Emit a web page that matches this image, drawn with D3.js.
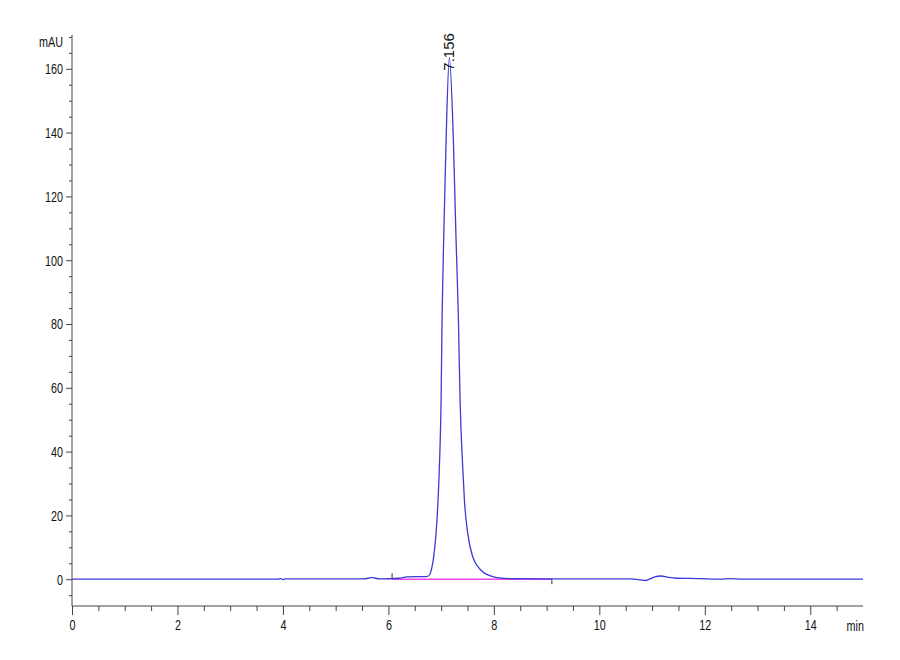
<!DOCTYPE html>
<html><head><meta charset="utf-8">
<script src="https://cdn.jsdelivr.net/npm/d3@7"></script>
<style>
body{margin:0;background:#fff;}
text{font-family:"Liberation Sans",Arial,sans-serif;fill:#111;}
</style></head>
<body><svg id="c" width="900" height="660"></svg>
<script>
// Chromatogram trace (time in min, signal in mAU)
const timeMin = [0, 3.9, 3.95, 4.0, 4.05, 5.5, 5.62, 5.68, 5.75, 5.85, 6.2, 6.35, 6.55, 6.7, 6.76, 6.796, 6.829, 6.859, 6.904, 6.942, 6.967, 6.999, 7.018, 7.048, 7.094, 7.156, 7.232, 7.283, 7.327, 7.359, 7.409, 7.441, 7.503, 7.598, 7.693, 7.82, 7.95, 8.1, 8.3, 9.0, 10.6, 10.78, 10.87, 10.95, 11.05, 11.17, 11.3, 11.45, 11.9, 12.3, 12.5, 12.7, 15];
const signalMAU = [0, 0, 0.2, -0.1, 0.1, 0.1, 0.3, 0.6, 0.3, 0.1, 0.3, 0.7, 0.8, 0.8, 1.0, 1.9, 4.0, 7.1, 14.5, 24.9, 35.3, 56.2, 82.3, 106.4, 137.7, 163.5, 137.7, 106.4, 82.3, 56.2, 35.3, 24.9, 14.5, 7.1, 4.0, 1.9, 1.0, 0.4, 0.2, 0.1, 0.1, -0.2, -0.4, 0.0, 0.7, 1.0, 0.6, 0.3, 0.2, 0.0, 0.2, 0.0, 0];
// Integration baseline
const baselineTime = [6.07, 9.1];
const baselineValue = [0, 0];
// Peak annotation
const peakTime = 7.156;
const peakLabel = "7.156";
// Axis tick labels
const xTickLabels = [0, 2, 4, 6, 8, 10, 12, 14];
const yTickLabels = [0, 20, 40, 60, 80, 100, 120, 140, 160];
const xUnit = "min";
const yUnit = "mAU";

const svg = d3.select("#c");
const x = d3.scaleLinear().domain([0, 15]).range([72, 863]);
const y = d3.scaleLinear().domain([-8.4, 170.6]).range([606, 35]);
const axisColor = "#444";
const SX = 0.72; // condensed look of the original labels

function condense(sel) {
  sel.each(function () {
    const t = d3.select(this);
    const cx = +(t.attr("x") || 0);
    t.attr("x", cx / SX).attr("transform", `scale(${SX},1)`);
  });
}

// Y axis
const yMinor = d3.range(-5, 171, 5).filter(v => !yTickLabels.includes(v));
const yAxisMajor = d3.axisLeft(y).tickValues(yTickLabels).tickSize(6).tickPadding(3).tickFormat(d3.format("d"));
const gy = svg.append("g").attr("transform", `translate(${x(0)},0)`).call(yAxisMajor);
gy.select(".domain").attr("stroke", axisColor).attr("d", `M0,${y(170.6)}V${y(-8.4)}`);
gy.selectAll(".tick line").attr("stroke", axisColor);
gy.selectAll(".tick text").attr("font-size", 15).attr("font-family", null).style("fill", "#111").call(condense);
const gyMinor = svg.append("g").attr("transform", `translate(${x(0)},0)`)
  .call(d3.axisLeft(y).tickValues(yMinor).tickSize(3).tickFormat(""));
gyMinor.select(".domain").remove();
gyMinor.selectAll(".tick line").attr("stroke", axisColor);

// X axis
const xMinor = d3.range(0.5, 14.6, 0.5).filter(v => !xTickLabels.includes(v));
const xAxisMajor = d3.axisBottom(x).tickValues(xTickLabels).tickSize(9).tickPadding(4).tickFormat(d3.format("d"));
const gx = svg.append("g").attr("transform", `translate(0,${y(-8.4)})`).call(xAxisMajor);
gx.select(".domain").attr("stroke", axisColor).attr("d", `M${x(0)},0H${x(15)}`);
gx.selectAll(".tick line").attr("stroke", axisColor);
gx.selectAll(".tick text").attr("font-size", 15).attr("font-family", null).style("fill", "#111").call(condense);
const gxMinor = svg.append("g").attr("transform", `translate(0,${y(-8.4)})`)
  .call(d3.axisBottom(x).tickValues(xMinor).tickSize(5).tickFormat(""));
gxMinor.select(".domain").remove();
gxMinor.selectAll(".tick line").attr("stroke", axisColor);

// Units
svg.append("text").attr("x", x(0) - 9).attr("y", y(170.6) + 12).attr("text-anchor", "end")
  .attr("font-size", 15).text(yUnit).call(condense);
svg.append("text").attr("x", x(15) + 1).attr("y", 631).attr("text-anchor", "end")
  .attr("font-size", 15).text(xUnit).call(condense);

// Baseline
const baseData = baselineTime.map((t, i) => [t, baselineValue[i]]);
svg.append("path").datum(baseData)
  .attr("d", d3.line().x(d => x(d[0])).y(d => y(d[1])))
  .attr("fill", "none").attr("stroke", "#ee48ee").attr("stroke-width", 1.5);
svg.append("line").attr("x1", x(baselineTime[0])).attr("x2", x(baselineTime[0]))
  .attr("y1", y(baselineValue[0])).attr("y2", y(baselineValue[0]) - 6).attr("stroke", "#333").attr("stroke-width", 1);
svg.append("line").attr("x1", x(baselineTime[1])).attr("x2", x(baselineTime[1]))
  .attr("y1", y(baselineValue[1])).attr("y2", y(baselineValue[1]) + 5).attr("stroke", "#333").attr("stroke-width", 1);

// Trace
const trace = timeMin.map((t, i) => [t, signalMAU[i]]);
svg.append("path").datum(trace)
  .attr("d", d3.line().curve(d3.curveMonotoneX).x(d => x(d[0])).y(d => y(d[1])))
  .attr("fill", "none").attr("stroke", "#3a3ad6").attr("stroke-width", 1.3);

// Peak label
const peakVal = signalMAU[timeMin.indexOf(peakTime)];
svg.append("text")
  .attr("transform", `translate(${x(peakTime) + 5},${y(peakVal) + 13}) rotate(-90)`)
  .attr("font-size", 15).text(peakLabel);
</script></body></html>
